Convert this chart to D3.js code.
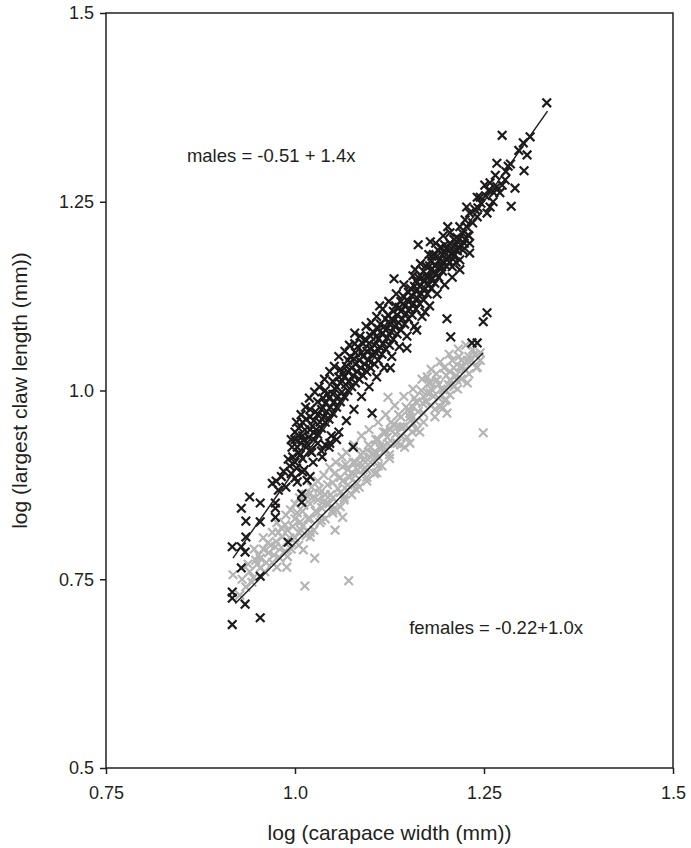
<!DOCTYPE html>
<html>
<head>
<meta charset="utf-8">
<script src="https://cdn.jsdelivr.net/npm/d3@7"></script>
<style>
  body { margin: 0; background: #fff; }
  text { font-family: Arial, "Liberation Sans", sans-serif; fill: #231f20; }
</style>
</head>
<body>
<div id="contents"></div>
<script>
// tick values and labels
var xTicks = [0.75, 1.0, 1.25, 1.5];
var xTickLabels = ['0.75', '1.0', '1.25', '1.5'];
var yTicks = [0.5, 0.75, 1.0, 1.25, 1.5];
var yTickLabels = ['0.5', '0.75', '1.0', '1.25', '1.5'];

// females (grey crosses)
var females = [
  [0.918,0.756],[0.927,0.729],[0.935,0.740],[0.943,0.746],[0.945,0.752],[0.950,0.770],[0.954,0.765],
  [0.954,0.778],[0.960,0.760],[0.965,0.785],[0.970,0.772],[0.974,0.793],[0.975,0.800],[0.976,0.766],
  [0.980,0.778],[0.983,0.806],[0.985,0.785],[0.989,0.766],[0.990,0.800],[0.990,0.815],[0.995,0.790],
  [1.000,0.805],[1.000,0.830],[1.005,0.812],[1.007,0.826],[1.010,0.820],[1.010,0.840],[1.011,0.789],
  [1.013,0.741],[1.015,0.808],[1.020,0.806],[1.020,0.830],[1.020,0.850],[1.020,0.864],[1.025,0.815],
  [1.026,0.778],[1.030,0.838],[1.030,0.855],[1.033,0.825],[1.033,0.864],[1.035,0.845],[1.040,0.830],
  [1.040,0.862],[1.042,0.851],[1.045,0.850],[1.050,0.838],[1.050,0.858],[1.050,0.878],[1.053,0.815],
  [1.055,0.842],[1.060,0.846],[1.060,0.865],[1.060,0.885],[1.062,0.912],[1.063,0.832],[1.063,0.899],
  [1.065,0.855],[1.069,0.868],[1.070,0.875],[1.070,0.895],[1.071,0.748],[1.075,0.862],[1.075,0.891],
  [1.080,0.888],[1.080,0.905],[1.082,0.877],[1.085,0.872],[1.086,0.904],[1.090,0.895],[1.090,0.908],
  [1.090,0.918],[1.095,0.880],[1.095,0.895],[1.099,0.912],[1.100,0.905],[1.100,0.925],[1.103,0.917],
  [1.105,0.890],[1.108,0.891],[1.108,0.917],[1.110,0.912],[1.110,0.935],[1.112,0.925],[1.115,0.900],
  [1.116,0.925],[1.120,0.922],[1.120,0.945],[1.122,0.938],[1.123,0.991],[1.125,0.910],[1.126,0.948],
  [1.130,0.930],[1.130,0.955],[1.135,0.930],[1.135,0.952],[1.139,0.952],[1.140,0.940],[1.140,0.965],
  [1.145,0.925],[1.148,0.938],[1.150,0.950],[1.150,0.975],[1.152,0.930],[1.152,0.965],[1.152,0.970],
  [1.156,0.957],[1.156,0.978],[1.160,0.960],[1.160,0.985],[1.161,0.948],[1.165,0.945],[1.169,0.983],
  [1.170,0.970],[1.170,0.992],[1.175,0.997],[1.175,1.018],[1.179,0.997],[1.179,1.010],[1.180,0.980],
  [1.180,1.002],[1.185,0.965],[1.188,1.014],[1.190,0.990],[1.190,1.008],[1.192,0.978],[1.196,0.977],
  [1.196,1.001],[1.198,0.987],[1.200,1.000],[1.200,1.020],[1.201,0.970],[1.205,0.994],[1.205,1.014],
  [1.205,1.025],[1.210,1.005],[1.210,1.030],[1.214,1.014],[1.218,1.031],[1.220,1.015],[1.220,1.040],
  [1.222,1.031],[1.228,1.010],[1.228,1.040],[1.230,1.022],[1.230,1.045],[1.235,1.054],[1.240,1.030],
  [1.241,1.031],[1.245,1.040],[1.245,1.050],[1.249,0.944],
  [0.940,0.760],[0.948,0.775],[0.958,0.790],[0.962,0.772],[0.968,0.795],[0.972,0.782],[0.978,0.812],
  [0.982,0.792],[0.987,0.822],[0.993,0.805],[0.997,0.820],[1.003,0.838],[1.008,0.815],[1.012,0.848],
  [1.017,0.830],[1.023,0.858],[1.027,0.840],[1.032,0.870],[1.037,0.852],[1.043,0.875],[1.047,0.862],
  [1.052,0.890],[1.057,0.870],[1.063,0.880],[1.067,0.902],[1.072,0.885],[1.077,0.905],[1.083,0.895],
  [1.087,0.915],[1.093,0.905],[1.097,0.928],[1.102,0.915],[1.107,0.935],[1.113,0.922],[1.117,0.945],
  [1.123,0.930],[1.127,0.958],[1.133,0.942],[1.137,0.968],[1.143,0.952],[1.147,0.978],[1.153,0.960],
  [1.158,0.990],[1.163,0.972],[1.167,1.000],[1.173,0.985],[1.177,1.010],[1.183,0.992],[1.187,1.022],
  [1.193,1.002],[1.197,1.030],[1.203,1.008],[1.208,1.040],[1.213,1.020],[1.217,1.045],[1.225,1.028],
  [1.233,1.040],[1.238,1.048],
  [0.930,0.750],[0.938,0.770],[0.946,0.790],[0.952,0.782],[0.958,0.805],[0.964,0.798],[0.970,0.812],
  [0.976,0.825],[0.982,0.818],[0.988,0.835],[0.994,0.842],[1.000,0.850],[1.006,0.858],[1.014,0.862],
  [1.022,0.872],[1.030,0.880],[1.038,0.888],[1.046,0.898],[1.054,0.905],[1.068,0.918],[1.078,0.928],
  [1.088,0.940],[1.098,0.948],[1.110,0.958],[1.120,0.968],[1.132,0.980],[1.144,0.992],[1.156,1.002],
  [1.168,1.015],[1.180,1.028],[1.192,1.038],[1.204,1.048],[1.216,1.055],[1.226,1.060],
  [0.990,0.780],[1.005,0.795],[1.020,0.812],[1.035,0.828],[1.050,0.842],[1.065,0.858],[1.080,0.870],
  [1.095,0.885],[1.110,0.900],[1.125,0.915],[1.140,0.928],[1.155,0.945],[1.170,0.958],[1.185,0.975],
  [1.200,0.988],[1.215,1.002]
];

// males (black crosses)
var males = [
  [0.917,0.690],[0.917,0.725],[0.917,0.733],[0.917,0.793],[0.929,0.765],[0.929,0.793],[0.929,0.844],
  [0.934,0.717],[0.934,0.786],[0.935,0.806],[0.935,0.827],[0.940,0.859],[0.954,0.699],[0.954,0.754],
  [0.954,0.826],[0.954,0.851],[0.974,0.832],[0.974,0.844],[0.974,0.851],[0.991,0.799],[0.991,0.909],
  [0.970,0.877],[0.975,0.880],[0.978,0.868],[0.982,0.886],[0.985,0.893],[0.988,0.872],[0.995,0.890],
  [1.000,0.884],[1.003,0.879],[1.009,0.863],[1.009,0.852],[1.010,0.892],[1.016,0.881],[1.020,0.886],
  [1.007,0.915],[1.012,0.935],[1.015,0.925],[1.022,0.918],[1.025,0.944],[1.030,0.930],[1.035,0.920],
  [1.040,0.928],[1.045,0.925],[1.048,0.940],[1.055,0.935],[1.077,0.925],[1.020,0.965],
  [1.000,0.905],[1.000,0.935],[1.000,0.945],[1.005,0.918],[1.005,0.950],[1.010,0.910],[1.010,0.940],
  [1.010,0.958],[1.015,0.930],[1.015,0.962],[1.020,0.920],[1.020,0.948],[1.020,0.975],[1.025,0.935],
  [1.025,0.960],[1.030,0.942],[1.030,0.968],[1.030,0.985],[1.035,0.950],[1.035,0.975],[1.040,0.958],
  [1.040,0.983],[1.040,1.000],[1.045,0.962],[1.045,0.990],[1.050,0.970],[1.050,0.995],[1.050,1.012],
  [1.055,0.978],[1.055,1.005],[1.060,0.985],[1.060,1.010],[1.060,1.028],[1.065,0.992],[1.065,1.018],
  [1.070,1.000],[1.070,1.025],[1.070,1.040],[1.075,1.005],[1.075,1.030],[1.079,1.076],[1.080,1.010],
  [1.080,1.035],[1.080,1.050],[1.085,1.015],[1.085,1.040],[1.090,1.020],[1.090,1.045],[1.090,1.062],
  [1.095,1.025],[1.095,1.052],[1.100,1.030],[1.100,1.055],[1.100,1.072],[1.102,0.970],[1.105,1.035],
  [1.105,1.060],[1.110,1.040],[1.110,1.068],[1.110,1.082],[1.112,1.112],[1.115,1.048],[1.115,1.075],
  [1.120,1.055],[1.120,1.080],[1.120,1.095],[1.125,1.060],[1.125,1.088],[1.126,1.030],[1.130,1.068],
  [1.130,1.092],[1.130,1.105],[1.131,1.148],[1.135,1.075],[1.135,1.100],[1.140,1.080],[1.140,1.105],
  [1.140,1.118],[1.145,1.088],[1.145,1.112],[1.148,1.056],[1.150,1.095],[1.150,1.118],[1.150,1.130],
  [1.155,1.100],[1.155,1.125],[1.159,1.160],[1.160,1.108],[1.160,1.132],[1.160,1.145],[1.161,1.080],
  [1.163,1.193],[1.165,1.115],[1.165,1.138],[1.170,1.120],[1.170,1.145],[1.170,1.158],[1.172,1.104],
  [1.175,1.128],[1.175,1.149],[1.175,1.152],[1.179,1.197],[1.180,1.135],[1.180,1.160],[1.180,1.172],
  [1.181,1.178],[1.183,1.156],[1.185,1.142],[1.185,1.165],[1.190,1.150],[1.190,1.172],[1.190,1.185],
  [1.194,1.164],[1.195,1.158],[1.195,1.180],[1.198,1.193],[1.200,1.165],[1.200,1.188],[1.201,1.095],
  [1.201,1.173],[1.202,1.217],[1.205,1.170],[1.205,1.195],[1.205,1.209],[1.206,1.071],[1.208,1.164],
  [1.209,1.182],[1.210,1.178],[1.210,1.200],[1.214,1.203],[1.215,1.185],[1.216,1.190],[1.218,1.173],
  [1.218,1.217],[1.220,1.192],[1.222,1.186],[1.225,1.200],[1.225,1.226],[1.227,1.217],[1.227,1.243],
  [1.229,1.206],[1.230,1.205],[1.231,1.182],[1.231,1.195],[1.231,1.235],[1.234,1.063],[1.241,1.063],
  [1.241,1.230],[1.241,1.256],[1.242,1.242],[1.245,1.256],[1.249,1.091],[1.251,1.272],[1.254,1.103],
  [1.254,1.235],[1.258,1.243],[1.258,1.275],[1.262,1.250],[1.267,1.270],[1.267,1.301],[1.271,1.262],
  [1.274,1.272],[1.274,1.338],[1.278,1.279],[1.282,1.297],[1.286,1.244],[1.291,1.268],[1.302,1.328],
  [1.303,1.291],[1.307,1.312],[1.311,1.336],[1.333,1.381],
  [0.993,0.900],[0.997,0.912],[1.002,0.897],[0.996,0.925],[1.004,0.940],
  [1.003,0.925],[1.008,0.930],[1.013,0.948],[1.018,0.938],[1.023,0.953],[1.027,0.972],[1.028,0.948],
  [1.033,0.958],[1.037,0.990],[1.038,0.965],[1.042,0.972],[1.043,0.995],[1.047,0.978],[1.052,0.985],
  [1.053,1.002],[1.057,0.992],[1.058,1.018],[1.062,0.998],[1.063,1.022],[1.067,1.008],[1.068,1.032],
  [1.072,1.012],[1.073,1.045],[1.077,1.020],[1.078,1.042],[1.082,1.025],[1.083,1.058],[1.087,1.030],
  [1.088,1.050],[1.092,1.035],[1.093,1.068],[1.097,1.040],[1.098,1.062],[1.102,1.048],[1.103,1.078],
  [1.107,1.050],[1.108,1.072],[1.112,1.058],[1.113,1.088],[1.117,1.062],[1.118,1.085],[1.122,1.070],
  [1.123,1.100],[1.127,1.078],[1.128,1.095],[1.132,1.085],[1.133,1.112],[1.137,1.090],[1.138,1.110],
  [1.142,1.095],[1.143,1.125],[1.147,1.102],[1.148,1.120],[1.152,1.108],[1.153,1.135],[1.157,1.115],
  [1.158,1.138],[1.162,1.122],[1.163,1.150],[1.167,1.128],[1.168,1.150],[1.172,1.135],[1.173,1.165],
  [1.177,1.140],[1.178,1.165],[1.182,1.148],[1.183,1.180],[1.187,1.155],[1.188,1.178],[1.192,1.162],
  [1.193,1.190],[1.197,1.170],[1.198,1.182],[1.203,1.178],[1.207,1.188],[1.212,1.192],[1.213,1.170],
  [1.217,1.200],[1.222,1.208],[1.224,1.195],[1.235,1.222],[1.238,1.240],[1.246,1.248],[1.252,1.258],
  [1.256,1.265],[1.263,1.262],[1.265,1.285],[1.279,1.290],[1.285,1.300],[1.296,1.318],
  [0.995,0.935],[1.002,0.958],[1.008,0.968],[1.014,0.978],[1.019,0.990],[1.026,0.998],[1.032,1.005],
  [1.039,1.015],[1.046,1.025],[1.052,1.032],[1.058,1.045],[1.066,1.052],[1.072,1.060],[1.079,1.062],
  [1.086,1.072],[1.094,1.085],[1.101,1.090],[1.108,1.098],[1.116,1.108],[1.124,1.118],[1.134,1.128],
  [1.144,1.140],[1.156,1.152],[1.166,1.168],[1.177,1.180],[1.186,1.195],[1.196,1.205],
  [1.012,0.895],[1.024,0.905],[1.036,0.912],[1.046,0.930],[1.058,0.945],[1.068,0.960],[1.078,0.975],
  [1.088,0.992],[1.098,1.005],[1.108,1.018],[1.118,1.030],[1.128,1.045],[1.138,1.058],[1.148,1.072],
  [1.158,1.085],[1.168,1.098],[1.178,1.112],[1.188,1.128],[1.198,1.140],[1.208,1.150],[1.218,1.160]
];

// fitted lines (end points)
var maleFit = [[0.918, 0.778], [1.334, 1.370]];
var femaleFit = [[0.921, 0.718], [1.249, 1.050]];

var maleLabel = 'males = -0.51 + 1.4x';
var femaleLabel = 'females = -0.22+1.0x';

window.onload = function() {
    'use strict';
    var W = 691, H = 848;
    var LEFT = 106, RIGHT = 673, TOP = 13, BOTTOM = 768;
    var CROSS = 4.3;

    var svg = d3.select('#contents').append('svg')
        .attr('width', W)
        .attr('height', H);

    var x = d3.scaleLinear().domain([0.75, 1.5]).range([LEFT, RIGHT]);
    var y = d3.scaleLinear().domain([0.5, 1.5]).range([BOTTOM, TOP]);

    function cross(d) {
        var cx = x(d[0]), cy = y(d[1]);
        return 'M' + (cx - CROSS) + ',' + (cy - CROSS) + 'L' + (cx + CROSS) + ',' + (cy + CROSS) +
               'M' + (cx - CROSS) + ',' + (cy + CROSS) + 'L' + (cx + CROSS) + ',' + (cy - CROSS);
    }

    // frame
    svg.append('rect')
        .attr('x', LEFT).attr('y', TOP)
        .attr('width', RIGHT - LEFT).attr('height', BOTTOM - TOP)
        .attr('fill', 'none')
        .attr('stroke', '#231f20')
        .attr('stroke-width', 1.5);

    // axes
    var xAxis = d3.axisBottom(x)
        .tickValues(xTicks)
        .tickSize(6)
        .tickPadding(12)
        .tickFormat(function(d, i) { return xTickLabels[i]; });
    var yAxis = d3.axisLeft(y)
        .tickValues(yTicks)
        .tickSize(6)
        .tickPadding(6)
        .tickFormat(function(d, i) { return yTickLabels[i]; });

    var gx = svg.append('g').attr('transform', 'translate(0,' + BOTTOM + ')').call(xAxis);
    var gy = svg.append('g').attr('transform', 'translate(' + LEFT + ',0)').call(yAxis);
    [gx, gy].forEach(function(g) {
        g.select('.domain').remove();
        g.selectAll('line').attr('stroke', '#231f20').attr('stroke-width', 1.5);
        g.selectAll('text')
            .attr('font-size', 18)
            .attr('font-family', 'Arial, "Liberation Sans", sans-serif')
            .attr('fill', '#231f20');
    });

    // points
    svg.append('g')
        .selectAll('path')
        .data(females)
        .enter()
        .append('path')
        .attr('d', cross)
        .attr('stroke', '#b5b5b5')
        .attr('stroke-width', 2.2)
        .attr('fill', 'none');

    svg.append('g')
        .selectAll('path')
        .data(males)
        .enter()
        .append('path')
        .attr('d', cross)
        .attr('stroke', '#1e1b1c')
        .attr('stroke-width', 2.2)
        .attr('fill', 'none');

    // fit lines
    var line = d3.line().x(function(d) { return x(d[0]); }).y(function(d) { return y(d[1]); });
    [maleFit, femaleFit].forEach(function(f) {
        svg.append('path')
            .attr('d', line(f))
            .attr('fill', 'none')
            .attr('stroke', '#231f20')
            .attr('stroke-width', 1.5);
    });

    // equations
    svg.append('text')
        .attr('x', x(0.857)).attr('y', y(1.302))
        .attr('font-size', 18.5)
        .text(maleLabel);
    svg.append('text')
        .attr('x', x(1.151)).attr('y', y(0.678))
        .attr('font-size', 18.5)
        .text(femaleLabel);

    // axis titles
    svg.append('text')
        .attr('x', (LEFT + RIGHT) / 2)
        .attr('y', 840)
        .attr('text-anchor', 'middle')
        .attr('font-size', 21)
        .text('log (carapace width (mm))');
    svg.append('text')
        .attr('transform', 'translate(27,' + y(1.0) + ') rotate(-90)')
        .attr('text-anchor', 'middle')
        .attr('font-size', 21)
        .text('log (largest claw length (mm))');
};
</script>
</body>
</html>
